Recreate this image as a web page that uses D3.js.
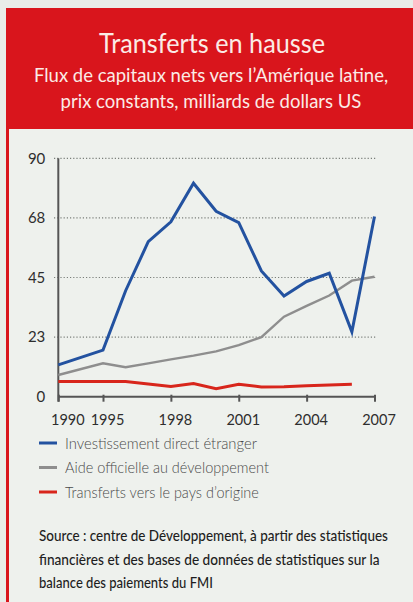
<!DOCTYPE html>
<html lang="fr">
<head>
<meta charset="utf-8">
<script src="https://cdn.jsdelivr.net/npm/d3@7"></script>
<style>
  html, body { margin: 0; padding: 0; background: #e9ece8; }
  svg { display: block; }
  text { font-family: Lato, "Open Sans", "DejaVu Sans Condensed", sans-serif; }
</style>
</head>
<body>
<svg id="chart" width="413" height="602"></svg>
<script>
// Années (l'axe comprime l'intervalle 1990–1995)
const years = [1990, 1995, 1996, 1997, 1998, 1999, 2000, 2001, 2002, 2003, 2004, 2005, 2006, 2007];

// Flux nets, milliards de dollars US, prix constants
const ide        = [12, 17.6, 40, 58.5, 66, 80.6, 70, 65.7, 47.5, 38, 43.5, 46.6, 24.5, 68];
const aide       = [8.2, 12.6, 11.1, 12.6, 14.1, 15.5, 17.1, 19.5, 22.5, 30.2, 34.3, 38.2, 43.8, 45.3];
const transferts = [5.7, 5.7, 5.7, 4.8, 3.9, 5.0, 3.0, 4.7, 3.7, 3.8, 4.1, 4.4, 4.7, null];

const yTicks = [0, 22.5, 45, 67.5, 90];
const yTickLabels = ["0", "23", "45", "68", "90"];
const xTicks = [1990, 1995, 1998, 2001, 2004, 2007];

const seriesNames = ["Investissement direct étranger", "Aide officielle au développement", "Transferts vers le pays d\u2019origine"];
const seriesColors = ["#2352a0", "#8e8e8e", "#d8261c"];

const svg = d3.select("#chart");

// Texte condensé : placé en (x, y) puis resserré horizontalement à la largeur w
function condensed(parent, str, x, y, w, anchor) {
  const t = parent.append("text").attr("text-anchor", anchor || "start").text(str);
  t.call(sel => sel.attr("data-w", w));
  return { node: t, x, y, w };
}
function applyCondensed(items) {
  items.forEach(({ node, x, y, w }) => {
    const len = node.node().getComputedTextLength();
    const s = Math.min(1, w / len);
    node.attr("transform", `translate(${x},${y}) scale(${s},1)`);
  });
}

// Cadre : bandeau rouge et panneau clair
svg.append("rect").attr("x", 6).attr("y", 8).attr("width", 407).attr("height", 594).attr("fill", "#eef1ed");
svg.append("rect").attr("x", 6).attr("y", 8).attr("width", 407).attr("height", 121).attr("fill", "#d9151c");
svg.append("rect").attr("x", 6).attr("y", 8).attr("width", 3).attr("height", 594).attr("fill", "#d9151c");

// Titres
const head = svg.append("g").attr("fill", "#fbebe6");
const heads = [
  condensed(head, "Transferts en hausse", 212, 53, 226, "middle"),
  condensed(head, "Flux de capitaux nets vers l\u2019Amérique latine,", 211, 82, 358, "middle"),
  condensed(head, "prix constants, milliards de dollars US", 211, 108, 302, "middle")
];
heads[0].node.attr("font-size", 26);
heads[1].node.attr("font-size", 18.5);
heads[2].node.attr("font-size", 18.5);

// Échelles
const x = d3.scaleLinear().domain([1990, 1995, 2007]).range([58.3, 103, 374.5]);
const y = d3.scaleLinear().domain([0, 90]).range([396.7, 158.3]);

// Quadrillage pointillé
svg.append("g")
  .selectAll("line")
  .data(yTicks.filter(d => d > 0))
  .join("line")
  .attr("x1", 54).attr("x2", 376)
  .attr("y1", d => y(d)).attr("y2", d => y(d))
  .attr("stroke", "#7a7f7a").attr("stroke-width", 1.2)
  .attr("stroke-dasharray", "1.2,2");

// Axe des ordonnées
const yAxis = svg.append("g").attr("transform", `translate(${x(1990)},0)`)
  .call(d3.axisLeft(y).tickValues(yTicks).tickSize(0).tickPadding(13)
    .tickFormat((d, i) => yTickLabels[i]));
yAxis.select(".domain").remove();
yAxis.selectAll("text").attr("font-size", 15).attr("fill", "#2e2e2e");
svg.append("line")
  .attr("x1", x(1990)).attr("x2", x(1990))
  .attr("y1", y(90)).attr("y2", y(0) + 5)
  .attr("stroke", "#555").attr("stroke-width", 2);

// Axe des abscisses
const xAxis = svg.append("g").attr("transform", `translate(0,${y(0)})`)
  .call(d3.axisBottom(x).tickValues(xTicks).tickSize(5).tickFormat(d3.format("d")));
xAxis.select(".domain").attr("stroke", "#555").attr("stroke-width", 2).attr("d", `M${x(1990)},0H${x(2007) + 1}`);
xAxis.selectAll(".tick line").attr("stroke", "#555").attr("stroke-width", 2).attr("y1", -2);
xAxis.selectAll("text")
  .attr("font-size", 14.5).attr("fill", "#2e2e2e")
  .attr("y", 28).attr("dy", 0)
  .attr("x", d => d === 1990 ? 9 : 4);

// Courbes
const line = d3.line()
  .defined(d => d[1] != null)
  .x(d => x(d[0]))
  .y(d => y(d[1]));

[[aide, 1], [transferts, 2], [ide, 0]].forEach(([vals, idx]) => {
  svg.append("path")
    .datum(years.map((yr, i) => [yr, vals[i]]))
    .attr("fill", "none")
    .attr("stroke", seriesColors[idx])
    .attr("stroke-width", idx === 1 ? 2.4 : 3)
    .attr("d", line);
});

// Légende
const legendWidths = [192, 204, 194];
const legend = svg.append("g").attr("fill", "#4a4a4a").attr("font-size", 16).attr("font-weight", 300);
const legendItems = seriesNames.map((name, i) => {
  const cy = 443 + i * 24.5;
  legend.append("line").attr("x1", 39).attr("x2", 57).attr("y1", cy).attr("y2", cy)
    .attr("stroke", seriesColors[i]).attr("stroke-width", 3);
  return condensed(legend, name, 65, cy + 5.5, legendWidths[i]);
});

// Source
const sourceLines = [
  "Source : centre de Développement, à partir des statistiques",
  "financières et des bases de données de statistiques sur la",
  "balance des paiements du FMI"
];
const sourceWidths = [349, 341, 174];
const source = svg.append("g").attr("fill", "#1e1e1e").attr("font-size", 15).attr("font-weight", 500);
const sourceItems = sourceLines.map((str, i) => condensed(source, str, 39, 541 + i * 23.5, sourceWidths[i]));

applyCondensed(heads.concat(legendItems, sourceItems));
</script>
</body>
</html>
